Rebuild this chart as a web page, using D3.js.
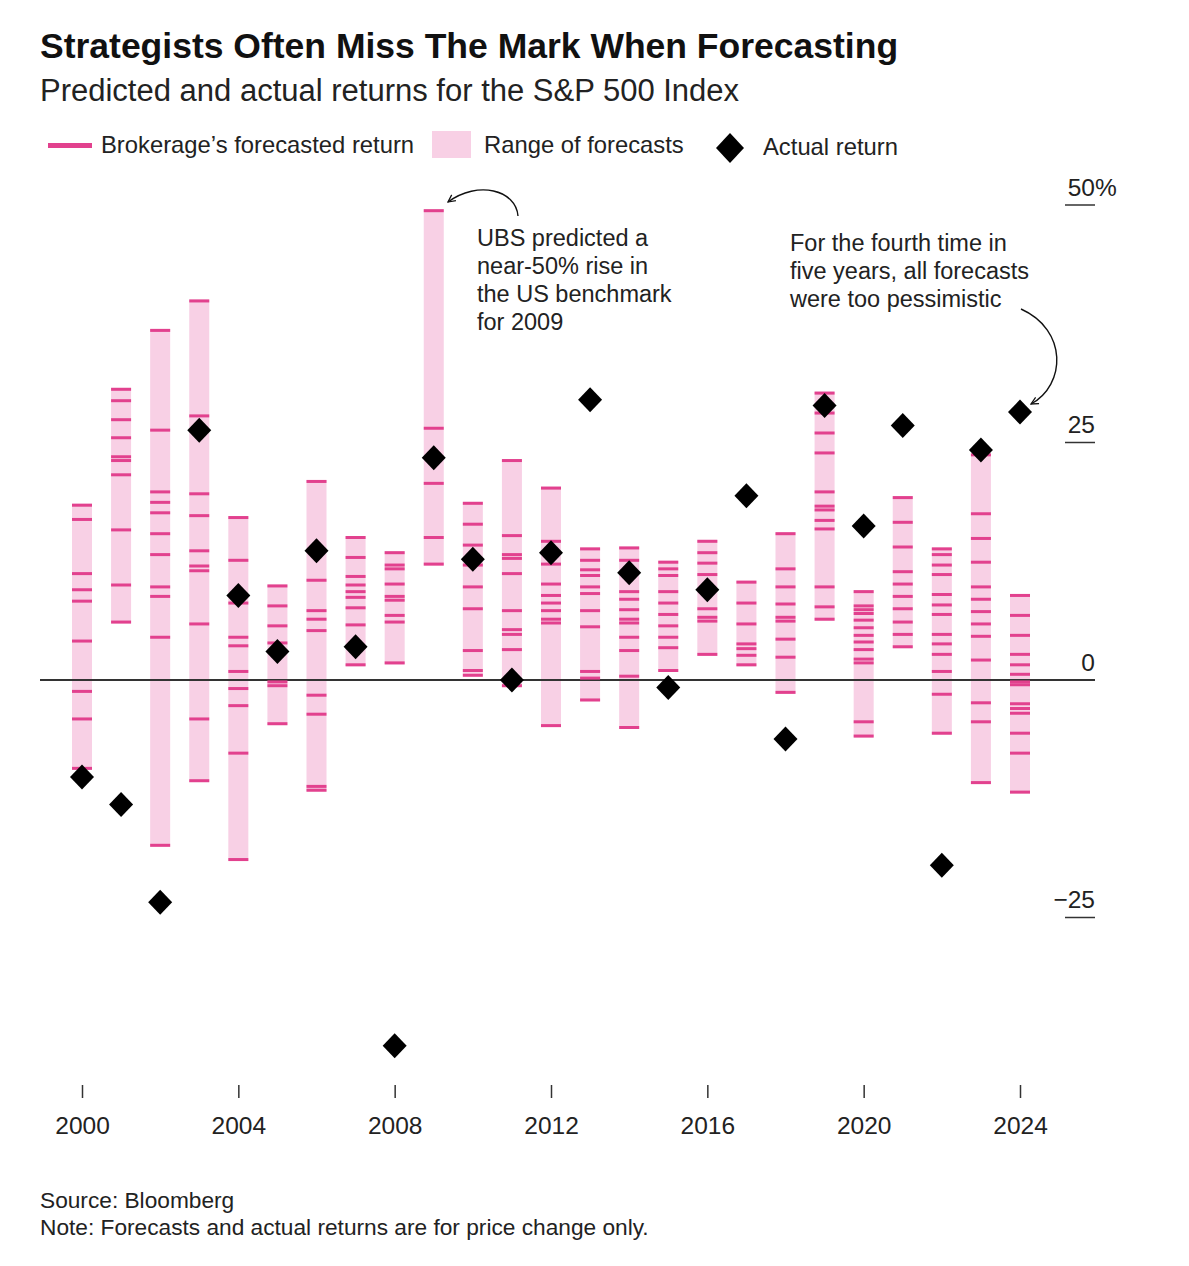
<!DOCTYPE html>
<html>
<head>
<meta charset="utf-8">
<script src="https://cdn.jsdelivr.net/npm/d3@7"></script>
<style>
  body { margin: 0; background: #fff; }
  svg { display: block; font-family: 'Liberation Sans', Arial, sans-serif; }
</style>
</head>
<body>
<div id="chart"></div>
<script>
// Years shown on the chart
const years = d3.range(2000, 2025);

// Actual S&P 500 price return for each year (%)
const actualReturns = [
  -10.2, -13.1, -23.4, 26.3, 8.9, 3.0, 13.6, 3.5, -38.5, 23.4,
  12.7, 0.0, 13.4, 29.5, 11.3, -0.8, 9.5, 19.4, -6.2, 28.9,
  16.2, 26.8, -19.5, 24.2, 28.2
];

// Each brokerage's forecasted return, one list per year (%)
const brokerForecasts = [
  [18.4, 16.9, 11.2, 9.5, 8.3, 4.1, -1.2, -4.1, -9.3],
  [30.6, 29.4, 27.4, 25.5, 23.5, 23.1, 21.6, 15.8, 10.0, 6.1],
  [36.8, 26.3, 19.8, 18.7, 17.6, 15.4, 13.2, 9.8, 8.8, 4.5, -17.4],
  [39.9, 27.8, 19.6, 17.3, 13.6, 12.0, 11.5, 5.9, -4.1, -10.6],
  [17.1, 12.6, 8.1, 4.5, 3.6, 0.9, -0.9, -2.7, -7.7, -18.9],
  [9.9, 7.8, 5.7, 3.9, -0.2, -0.6, -4.6],
  [20.9, 10.5, 7.3, 6.4, 5.2, -1.6, -3.6, -11.2, -11.6],
  [15.0, 12.9, 10.9, 10.0, 9.3, 8.7, 7.6, 5.8, 1.6],
  [13.4, 12.1, 11.7, 10.1, 8.8, 8.4, 6.8, 6.1, 1.8],
  [49.4, 26.5, 20.7, 15.0, 12.2],
  [18.6, 16.4, 14.2, 12.1, 9.8, 7.5, 3.1, 1.0, 0.5],
  [23.1, 15.2, 13.2, 12.8, 11.2, 7.3, 5.3, 4.8, 3.2, -0.6],
  [20.2, 14.6, 12.2, 10.1, 8.9, 8.1, 7.3, 6.4, 6.0, -4.8],
  [13.8, 12.6, 11.6, 11.0, 9.8, 9.1, 7.3, 5.6, 0.9, 0.2, -2.1],
  [13.9, 12.6, 9.3, 8.5, 7.4, 6.4, 6.0, 4.5, 3.1, 0.4, -5.0],
  [12.4, 11.7, 11.0, 9.3, 8.1, 6.9, 5.7, 4.5, 3.4, 1.0],
  [14.6, 13.4, 12.3, 11.1, 7.5, 6.6, 6.2, 2.7],
  [10.3, 8.1, 5.9, 3.8, 3.3, 2.6, 1.6],
  [15.4, 11.7, 9.8, 8.0, 6.6, 6.2, 4.3, 2.4, -1.3],
  [30.2, 28.1, 26.0, 23.9, 19.8, 18.3, 17.9, 16.8, 15.9, 9.8, 7.7, 6.4],
  [9.3, 7.8, 7.4, 7.0, 6.3, 5.5, 4.7, 4.0, 3.2, 2.2, 1.8, -4.4, -5.9],
  [19.2, 16.6, 14.0, 11.4, 10.1, 8.8, 7.5, 6.1, 4.8, 3.5],
  [13.8, 13.2, 12.1, 11.1, 9.0, 7.9, 6.9, 4.8, 3.8, 2.7, 0.9, -1.5, -5.6],
  [23.7, 17.5, 14.9, 12.4, 9.8, 8.5, 7.2, 5.9, 4.6, 2.1, -2.4, -4.4, -10.8],
  [8.9, 6.8, 4.7, 2.7, 1.6, 0.6, -0.2, -0.5, -2.5, -3.0, -3.5, -5.6, -7.7, -11.8]
];

// Axis ticks
const xTickYears = [2000, 2004, 2008, 2012, 2016, 2020, 2024];
const yTickValues = [-25, 25, 50];

// Annotation texts
const ubsNote = ['UBS predicted a', 'near-50% rise in', 'the US benchmark', 'for 2009'];
const pessimistNote = ['For the fourth time in', 'five years, all forecasts', 'were too pessimistic'];

/*------------------------------------------------------*/

const width = 1189;
const height = 1266;
const tickColor = '#e2418e';
const rangeColor = '#f8d0e5';
const textColor = '#222';

const svg = d3.select('#chart')
  .append('svg')
  .attr('width', width)
  .attr('height', height);

svg.append('rect').attr('width', width).attr('height', height).attr('fill', '#fff');

// Scales
const x = d3.scaleLinear().domain([2000, 2024]).range([82, 1020]);
const y = d3.scaleLinear().domain([-25, 50]).range([917.5, 205]);

const barWidth = 20;

// Diamond path centred at 0,0
const diamond = (hw, hh) => `M0,${-hh}L${hw},0L0,${hh}L${-hw},0Z`;

/*
 * Title, subtitle and legend
 */
svg.append('text')
  .attr('x', 40).attr('y', 58)
  .attr('font-size', 35.5).attr('font-weight', 'bold')
  .attr('fill', '#111')
  .text('Strategists Often Miss The Mark When Forecasting');

svg.append('text')
  .attr('x', 40).attr('y', 101)
  .attr('font-size', 31)
  .attr('fill', textColor)
  .text('Predicted and actual returns for the S&P 500 Index');

const legend = svg.append('g').attr('font-size', 23.8).attr('fill', textColor);
legend.append('rect')
  .attr('x', 48).attr('y', 143).attr('width', 44).attr('height', 5)
  .attr('fill', tickColor);
legend.append('text').attr('x', 101).attr('y', 153).text('Brokerage\u2019s forecasted return');
legend.append('rect')
  .attr('x', 432).attr('y', 131).attr('width', 39).attr('height', 27)
  .attr('fill', rangeColor);
legend.append('text').attr('x', 484).attr('y', 153).text('Range of forecasts');
legend.append('path')
  .attr('transform', 'translate(730,148)')
  .attr('d', diamond(14, 15))
  .attr('fill', '#000');
legend.append('text').attr('x', 763).attr('y', 155).text('Actual return');

/*
 * Y axis: labels sitting above a short rule
 */
const yAxis = svg.append('g').attr('font-size', 24.5).attr('fill', textColor);
yAxis.selectAll('line.ytick')
  .data(yTickValues)
  .enter().append('line')
  .attr('class', 'ytick')
  .attr('x1', 1065).attr('x2', 1095)
  .attr('y1', (d) => y(d)).attr('y2', (d) => y(d))
  .attr('stroke', '#333').attr('stroke-width', 1.5);
yAxis.selectAll('text.ylabel')
  .data(yTickValues.concat([0]))
  .enter().append('text')
  .attr('class', 'ylabel')
  .attr('x', 1095)
  .attr('y', (d) => y(d) - 9.5)
  .attr('text-anchor', 'end')
  .text((d) => d < 0 ? '\u2212' + Math.abs(d) : d);
yAxis.append('text')
  .attr('x', 1095).attr('y', y(50) - 9.5)
  .text('%');

/*
 * Ranges, forecast ticks and actual returns
 */
const rows = years.map((yr, i) => ({
  year: yr,
  actual: actualReturns[i],
  forecasts: brokerForecasts[i]
}));

svg.append('g').selectAll('.range')
  .data(rows)
  .enter().append('rect')
  .attr('class', 'range')
  .attr('x', (d) => x(d.year) - barWidth / 2)
  .attr('y', (d) => y(d3.max(d.forecasts)) - 1.5)
  .attr('width', barWidth)
  .attr('height', (d) => y(d3.min(d.forecasts)) - y(d3.max(d.forecasts)) + 3)
  .attr('fill', rangeColor);

// Zero line sits on top of the ranges
svg.append('line')
  .attr('x1', 40).attr('x2', 1095)
  .attr('y1', y(0)).attr('y2', y(0))
  .attr('stroke', '#333').attr('stroke-width', 2);

const tickGroups = svg.append('g').selectAll('g')
  .data(rows)
  .enter().append('g');
tickGroups.selectAll('rect')
  .data((d) => d.forecasts.map((v) => ({ year: d.year, value: v })))
  .enter().append('rect')
  .attr('x', (d) => x(d.year) - barWidth / 2)
  .attr('y', (d) => y(d.value) - 1.5)
  .attr('width', barWidth)
  .attr('height', 3)
  .attr('fill', tickColor);

svg.append('g').selectAll('path')
  .data(rows)
  .enter().append('path')
  .attr('transform', (d) => `translate(${x(d.year)},${y(d.actual)})`)
  .attr('d', diamond(12, 12.5))
  .attr('fill', '#000');

/*
 * X axis
 */
const xAxis = d3.axisBottom(x)
  .tickValues(xTickYears)
  .tickFormat(d3.format('d'))
  .tickSize(13)
  .tickPadding(19);

const xg = svg.append('g')
  .attr('transform', 'translate(0,1085)')
  .call(xAxis);
xg.select('.domain').remove();
xg.selectAll('line').attr('stroke', '#333').attr('stroke-width', 1.5);
xg.selectAll('text')
  .attr('font-size', 24.5)
  .attr('font-family', "'Liberation Sans', Arial, sans-serif")
  .attr('fill', textColor);

/*
 * Annotations
 */
const defs = svg.append('defs');
defs.append('marker')
  .attr('id', 'arrow')
  .attr('viewBox', '0 0 10 10')
  .attr('refX', 9).attr('refY', 5)
  .attr('markerWidth', 9).attr('markerHeight', 9)
  .attr('markerUnits', 'userSpaceOnUse')
  .attr('orient', 'auto')
  .append('path')
  .attr('d', 'M1,1L9,5L1,9')
  .attr('fill', 'none')
  .attr('stroke', '#111')
  .attr('stroke-width', 1.4);

const notes = svg.append('g').attr('font-size', 23.5).attr('fill', textColor);
notes.append('text')
  .selectAll('tspan')
  .data(ubsNote)
  .enter().append('tspan')
  .attr('x', 477)
  .attr('y', (d, i) => 246 + i * 28)
  .text((d) => d);
notes.append('text')
  .selectAll('tspan')
  .data(pessimistNote)
  .enter().append('tspan')
  .attr('x', 790)
  .attr('y', (d, i) => 251 + i * 28)
  .text((d) => d);

svg.append('path')
  .attr('d', 'M518,216 C516,190 478,180 448,202')
  .attr('fill', 'none')
  .attr('stroke', '#111')
  .attr('stroke-width', 1.4)
  .attr('marker-end', 'url(#arrow)');

svg.append('path')
  .attr('d', 'M1021,309 C1068,330 1066,385 1031,404')
  .attr('fill', 'none')
  .attr('stroke', '#111')
  .attr('stroke-width', 1.4)
  .attr('marker-end', 'url(#arrow)');

/*
 * Footer
 */
const footer = svg.append('g').attr('font-size', 22.7).attr('fill', textColor);
footer.append('text').attr('x', 40).attr('y', 1208).text('Source: Bloomberg');
footer.append('text').attr('x', 40).attr('y', 1235).text('Note: Forecasts and actual returns are for price change only.');
</script>
</body>
</html>
